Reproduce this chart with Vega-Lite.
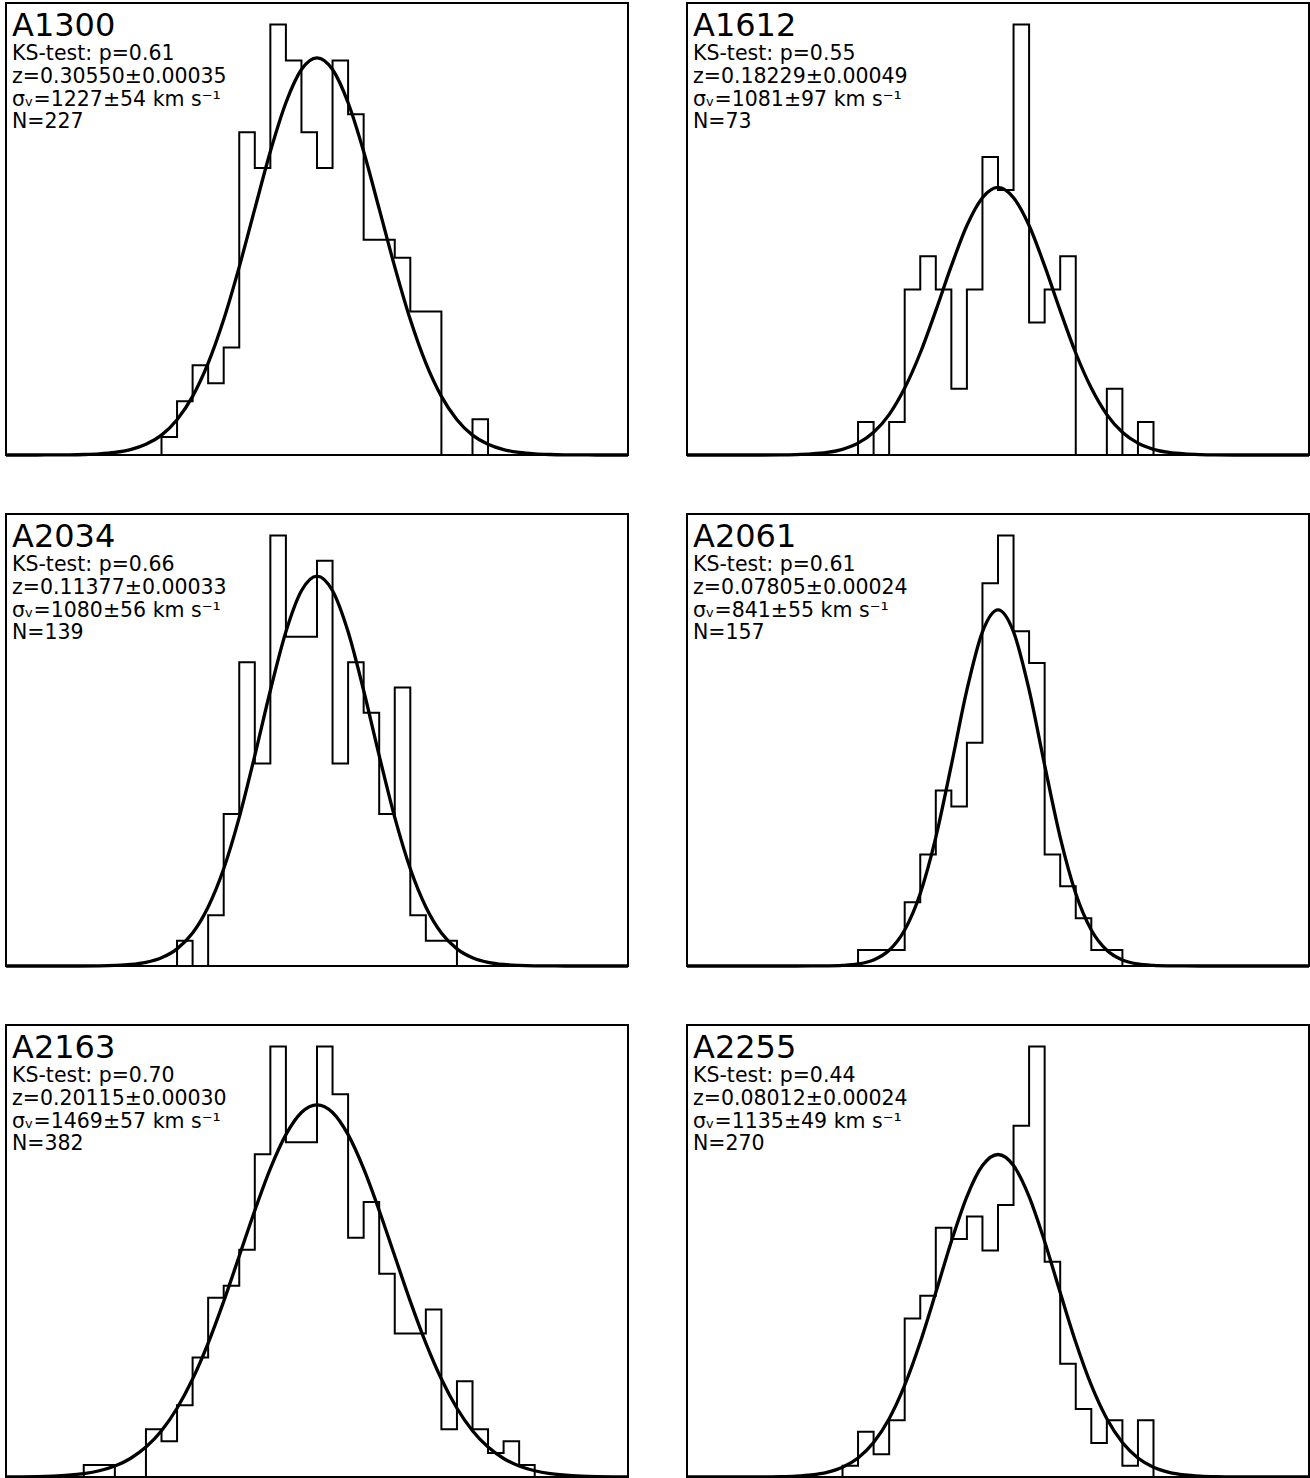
{
  "$schema": "https://vega.github.io/schema/vega-lite/v6.json",
  "padding": {"left": -2, "top": 2, "right": 0, "bottom": 0},
  "background": "white",
  "columns": 2,
  "spacing": 59,
  "bounds": "flush",
  "resolve": {"scale": {"x": "independent", "y": "independent"}},
  "datasets": {
    "hist": [
      {"c":"A1300","v":-3300,"n":0},{"c":"A1300","v":-3000,"n":1},{"c":"A1300","v":-2700,"n":3},{"c":"A1300","v":-2400,"n":5},{"c":"A1300","v":-2100,"n":4},{"c":"A1300","v":-1800,"n":6},{"c":"A1300","v":-1500,"n":18},{"c":"A1300","v":-1200,"n":16},{"c":"A1300","v":-900,"n":24},{"c":"A1300","v":-600,"n":22},{"c":"A1300","v":-300,"n":18},{"c":"A1300","v":0,"n":16},{"c":"A1300","v":300,"n":22},{"c":"A1300","v":600,"n":19},{"c":"A1300","v":900,"n":12},{"c":"A1300","v":1200,"n":12},{"c":"A1300","v":1500,"n":11},{"c":"A1300","v":1800,"n":8},{"c":"A1300","v":2100,"n":8},{"c":"A1300","v":2400,"n":0},{"c":"A1300","v":2700,"n":0},{"c":"A1300","v":3000,"n":2},{"c":"A1300","v":3300,"n":0},
      {"c":"A1612","v":-3000,"n":0},{"c":"A1612","v":-2700,"n":1},{"c":"A1612","v":-2400,"n":0},{"c":"A1612","v":-2100,"n":1},{"c":"A1612","v":-1800,"n":5},{"c":"A1612","v":-1500,"n":6},{"c":"A1612","v":-1200,"n":5},{"c":"A1612","v":-900,"n":2},{"c":"A1612","v":-600,"n":5},{"c":"A1612","v":-300,"n":9},{"c":"A1612","v":0,"n":8},{"c":"A1612","v":300,"n":13},{"c":"A1612","v":600,"n":4},{"c":"A1612","v":900,"n":5},{"c":"A1612","v":1200,"n":6},{"c":"A1612","v":1500,"n":0},{"c":"A1612","v":1800,"n":0},{"c":"A1612","v":2100,"n":2},{"c":"A1612","v":2400,"n":0},{"c":"A1612","v":2700,"n":1},{"c":"A1612","v":3000,"n":0},
      {"c":"A2034","v":-3000,"n":0},{"c":"A2034","v":-2700,"n":1},{"c":"A2034","v":-2400,"n":0},{"c":"A2034","v":-2100,"n":2},{"c":"A2034","v":-1800,"n":6},{"c":"A2034","v":-1500,"n":12},{"c":"A2034","v":-1200,"n":8},{"c":"A2034","v":-900,"n":17},{"c":"A2034","v":-600,"n":13},{"c":"A2034","v":-300,"n":13},{"c":"A2034","v":0,"n":16},{"c":"A2034","v":300,"n":8},{"c":"A2034","v":600,"n":12},{"c":"A2034","v":900,"n":10},{"c":"A2034","v":1200,"n":6},{"c":"A2034","v":1500,"n":11},{"c":"A2034","v":1800,"n":2},{"c":"A2034","v":2100,"n":1},{"c":"A2034","v":2400,"n":1},{"c":"A2034","v":2700,"n":0},
      {"c":"A2061","v":-3000,"n":0},{"c":"A2061","v":-2700,"n":1},{"c":"A2061","v":-2400,"n":1},{"c":"A2061","v":-2100,"n":1},{"c":"A2061","v":-1800,"n":4},{"c":"A2061","v":-1500,"n":7},{"c":"A2061","v":-1200,"n":11},{"c":"A2061","v":-900,"n":10},{"c":"A2061","v":-600,"n":14},{"c":"A2061","v":-300,"n":24},{"c":"A2061","v":0,"n":27},{"c":"A2061","v":300,"n":21},{"c":"A2061","v":600,"n":19},{"c":"A2061","v":900,"n":7},{"c":"A2061","v":1200,"n":5},{"c":"A2061","v":1500,"n":3},{"c":"A2061","v":1800,"n":1},{"c":"A2061","v":2100,"n":1},{"c":"A2061","v":2400,"n":0},
      {"c":"A2163","v":-4800,"n":0},{"c":"A2163","v":-4500,"n":1},{"c":"A2163","v":-4200,"n":1},{"c":"A2163","v":-3900,"n":0},{"c":"A2163","v":-3600,"n":0},{"c":"A2163","v":-3300,"n":4},{"c":"A2163","v":-3000,"n":3},{"c":"A2163","v":-2700,"n":6},{"c":"A2163","v":-2400,"n":10},{"c":"A2163","v":-2100,"n":15},{"c":"A2163","v":-1800,"n":16},{"c":"A2163","v":-1500,"n":19},{"c":"A2163","v":-1200,"n":27},{"c":"A2163","v":-900,"n":36},{"c":"A2163","v":-600,"n":28},{"c":"A2163","v":-300,"n":28},{"c":"A2163","v":0,"n":36},{"c":"A2163","v":300,"n":32},{"c":"A2163","v":600,"n":20},{"c":"A2163","v":900,"n":23},{"c":"A2163","v":1200,"n":17},{"c":"A2163","v":1500,"n":12},{"c":"A2163","v":1800,"n":12},{"c":"A2163","v":2100,"n":14},{"c":"A2163","v":2400,"n":4},{"c":"A2163","v":2700,"n":8},{"c":"A2163","v":3000,"n":4},{"c":"A2163","v":3300,"n":2},{"c":"A2163","v":3600,"n":3},{"c":"A2163","v":3900,"n":1},{"c":"A2163","v":4200,"n":0},
      {"c":"A2255","v":-3300,"n":0},{"c":"A2255","v":-3000,"n":1},{"c":"A2255","v":-2700,"n":4},{"c":"A2255","v":-2400,"n":2},{"c":"A2255","v":-2100,"n":5},{"c":"A2255","v":-1800,"n":14},{"c":"A2255","v":-1500,"n":16},{"c":"A2255","v":-1200,"n":22},{"c":"A2255","v":-900,"n":21},{"c":"A2255","v":-600,"n":23},{"c":"A2255","v":-300,"n":20},{"c":"A2255","v":0,"n":24},{"c":"A2255","v":300,"n":31},{"c":"A2255","v":600,"n":38},{"c":"A2255","v":900,"n":19},{"c":"A2255","v":1200,"n":10},{"c":"A2255","v":1500,"n":6},{"c":"A2255","v":1800,"n":3},{"c":"A2255","v":2100,"n":5},{"c":"A2255","v":2400,"n":1},{"c":"A2255","v":2700,"n":5},{"c":"A2255","v":3000,"n":0}
    ],
    "fit": [
      {"c":"A1300","v":-6000,"n":0},{"c":"A1300","v":-5400,"n":0.001},{"c":"A1300","v":-5100,"n":0.004},{"c":"A1300","v":-4800,"n":0.011},{"c":"A1300","v":-4500,"n":0.027},{"c":"A1300","v":-4200,"n":0.063},{"c":"A1300","v":-3900,"n":0.142},{"c":"A1300","v":-3600,"n":0.299},{"c":"A1300","v":-3300,"n":0.595},{"c":"A1300","v":-3000,"n":1.11},{"c":"A1300","v":-2700,"n":1.97},{"c":"A1300","v":-2400,"n":3.27},{"c":"A1300","v":-2100,"n":5.12},{"c":"A1300","v":-1800,"n":7.55},{"c":"A1300","v":-1500,"n":10.49},{"c":"A1300","v":-1200,"n":13.72},{"c":"A1300","v":-900,"n":16.92},{"c":"A1300","v":-600,"n":19.64},{"c":"A1300","v":-300,"n":21.49},{"c":"A1300","v":0,"n":22.14},{"c":"A1300","v":300,"n":21.49},{"c":"A1300","v":600,"n":19.64},{"c":"A1300","v":900,"n":16.92},{"c":"A1300","v":1200,"n":13.72},{"c":"A1300","v":1500,"n":10.49},{"c":"A1300","v":1800,"n":7.55},{"c":"A1300","v":2100,"n":5.12},{"c":"A1300","v":2400,"n":3.27},{"c":"A1300","v":2700,"n":1.97},{"c":"A1300","v":3000,"n":1.11},{"c":"A1300","v":3300,"n":0.595},{"c":"A1300","v":3600,"n":0.299},{"c":"A1300","v":3900,"n":0.142},{"c":"A1300","v":4200,"n":0.063},{"c":"A1300","v":4500,"n":0.027},{"c":"A1300","v":4800,"n":0.011},{"c":"A1300","v":5100,"n":0.004},{"c":"A1300","v":5400,"n":0.001},{"c":"A1300","v":6000,"n":0},
      {"c":"A1612","v":-6000,"n":0},{"c":"A1612","v":-4800,"n":0},{"c":"A1612","v":-4200,"n":0.004},{"c":"A1612","v":-3900,"n":0.012},{"c":"A1612","v":-3600,"n":0.032},{"c":"A1612","v":-3300,"n":0.077},{"c":"A1612","v":-3000,"n":0.172},{"c":"A1612","v":-2700,"n":0.357},{"c":"A1612","v":-2400,"n":0.687},{"c":"A1612","v":-2100,"n":1.22},{"c":"A1612","v":-1800,"n":2.02},{"c":"A1612","v":-1500,"n":3.08},{"c":"A1612","v":-1200,"n":4.36},{"c":"A1612","v":-900,"n":5.71},{"c":"A1612","v":-600,"n":6.93},{"c":"A1612","v":-300,"n":7.77},{"c":"A1612","v":0,"n":8.08},{"c":"A1612","v":300,"n":7.77},{"c":"A1612","v":600,"n":6.93},{"c":"A1612","v":900,"n":5.71},{"c":"A1612","v":1200,"n":4.36},{"c":"A1612","v":1500,"n":3.08},{"c":"A1612","v":1800,"n":2.02},{"c":"A1612","v":2100,"n":1.22},{"c":"A1612","v":2400,"n":0.687},{"c":"A1612","v":2700,"n":0.357},{"c":"A1612","v":3000,"n":0.172},{"c":"A1612","v":3300,"n":0.077},{"c":"A1612","v":3600,"n":0.032},{"c":"A1612","v":3900,"n":0.012},{"c":"A1612","v":4200,"n":0.004},{"c":"A1612","v":4800,"n":0},{"c":"A1612","v":6000,"n":0},
      {"c":"A2034","v":-6000,"n":0},{"c":"A2034","v":-4800,"n":0},{"c":"A2034","v":-4200,"n":0.008},{"c":"A2034","v":-3900,"n":0.023},{"c":"A2034","v":-3600,"n":0.059},{"c":"A2034","v":-3300,"n":0.145},{"c":"A2034","v":-3000,"n":0.325},{"c":"A2034","v":-2700,"n":0.676},{"c":"A2034","v":-2400,"n":1.30},{"c":"A2034","v":-2100,"n":2.33},{"c":"A2034","v":-1800,"n":3.84},{"c":"A2034","v":-1500,"n":5.87},{"c":"A2034","v":-1200,"n":8.31},{"c":"A2034","v":-900,"n":10.88},{"c":"A2034","v":-600,"n":13.20},{"c":"A2034","v":-300,"n":14.82},{"c":"A2034","v":0,"n":15.40},{"c":"A2034","v":300,"n":14.82},{"c":"A2034","v":600,"n":13.20},{"c":"A2034","v":900,"n":10.88},{"c":"A2034","v":1200,"n":8.31},{"c":"A2034","v":1500,"n":5.87},{"c":"A2034","v":1800,"n":3.84},{"c":"A2034","v":2100,"n":2.33},{"c":"A2034","v":2400,"n":1.30},{"c":"A2034","v":2700,"n":0.676},{"c":"A2034","v":3000,"n":0.325},{"c":"A2034","v":3300,"n":0.145},{"c":"A2034","v":3600,"n":0.059},{"c":"A2034","v":3900,"n":0.023},{"c":"A2034","v":4200,"n":0.008},{"c":"A2034","v":4800,"n":0},{"c":"A2034","v":6000,"n":0},
      {"c":"A2061","v":-6000,"n":0},{"c":"A2061","v":-4200,"n":0},{"c":"A2061","v":-3600,"n":0.002},{"c":"A2061","v":-3300,"n":0.010},{"c":"A2061","v":-3000,"n":0.039},{"c":"A2061","v":-2700,"n":0.129},{"c":"A2061","v":-2400,"n":0.381},{"c":"A2061","v":-2100,"n":0.989},{"c":"A2061","v":-1800,"n":2.26},{"c":"A2061","v":-1500,"n":4.55},{"c":"A2061","v":-1200,"n":8.07},{"c":"A2061","v":-900,"n":12.60},{"c":"A2061","v":-600,"n":17.32},{"c":"A2061","v":-300,"n":20.96},{"c":"A2061","v":0,"n":22.34},{"c":"A2061","v":300,"n":20.96},{"c":"A2061","v":600,"n":17.32},{"c":"A2061","v":900,"n":12.60},{"c":"A2061","v":1200,"n":8.07},{"c":"A2061","v":1500,"n":4.55},{"c":"A2061","v":1800,"n":2.26},{"c":"A2061","v":2100,"n":0.989},{"c":"A2061","v":2400,"n":0.381},{"c":"A2061","v":2700,"n":0.129},{"c":"A2061","v":3000,"n":0.039},{"c":"A2061","v":3300,"n":0.010},{"c":"A2061","v":3600,"n":0.002},{"c":"A2061","v":4200,"n":0},{"c":"A2061","v":6000,"n":0},
      {"c":"A2163","v":-6000,"n":0.007},{"c":"A2163","v":-5700,"n":0.017},{"c":"A2163","v":-5400,"n":0.036},{"c":"A2163","v":-5100,"n":0.075},{"c":"A2163","v":-4800,"n":0.149},{"c":"A2163","v":-4500,"n":0.285},{"c":"A2163","v":-4200,"n":0.522},{"c":"A2163","v":-3900,"n":0.917},{"c":"A2163","v":-3600,"n":1.55},{"c":"A2163","v":-3300,"n":2.50},{"c":"A2163","v":-3000,"n":3.87},{"c":"A2163","v":-2700,"n":5.75},{"c":"A2163","v":-2400,"n":8.19},{"c":"A2163","v":-2100,"n":11.20},{"c":"A2163","v":-1800,"n":14.69},{"c":"A2163","v":-1500,"n":18.48},{"c":"A2163","v":-1200,"n":22.29},{"c":"A2163","v":-900,"n":25.79},{"c":"A2163","v":-600,"n":28.63},{"c":"A2163","v":-300,"n":30.48},{"c":"A2163","v":0,"n":31.12},{"c":"A2163","v":300,"n":30.48},{"c":"A2163","v":600,"n":28.63},{"c":"A2163","v":900,"n":25.79},{"c":"A2163","v":1200,"n":22.29},{"c":"A2163","v":1500,"n":18.48},{"c":"A2163","v":1800,"n":14.69},{"c":"A2163","v":2100,"n":11.20},{"c":"A2163","v":2400,"n":8.19},{"c":"A2163","v":2700,"n":5.75},{"c":"A2163","v":3000,"n":3.87},{"c":"A2163","v":3300,"n":2.50},{"c":"A2163","v":3600,"n":1.55},{"c":"A2163","v":3900,"n":0.917},{"c":"A2163","v":4200,"n":0.522},{"c":"A2163","v":4500,"n":0.285},{"c":"A2163","v":4800,"n":0.149},{"c":"A2163","v":5100,"n":0.075},{"c":"A2163","v":5400,"n":0.036},{"c":"A2163","v":5700,"n":0.017},{"c":"A2163","v":6000,"n":0.007},
      {"c":"A2255","v":-6000,"n":0},{"c":"A2255","v":-5400,"n":0},{"c":"A2255","v":-4800,"n":0.004},{"c":"A2255","v":-4500,"n":0.011},{"c":"A2255","v":-4200,"n":0.030},{"c":"A2255","v":-3900,"n":0.078},{"c":"A2255","v":-3600,"n":0.186},{"c":"A2255","v":-3300,"n":0.416},{"c":"A2255","v":-3000,"n":0.865},{"c":"A2255","v":-2700,"n":1.68},{"c":"A2255","v":-2400,"n":3.04},{"c":"A2255","v":-2100,"n":5.14},{"c":"A2255","v":-1800,"n":8.10},{"c":"A2255","v":-1500,"n":11.89},{"c":"A2255","v":-1200,"n":16.28},{"c":"A2255","v":-900,"n":20.79},{"c":"A2255","v":-600,"n":24.76},{"c":"A2255","v":-300,"n":27.49},{"c":"A2255","v":0,"n":28.47},{"c":"A2255","v":300,"n":27.49},{"c":"A2255","v":600,"n":24.76},{"c":"A2255","v":900,"n":20.79},{"c":"A2255","v":1200,"n":16.28},{"c":"A2255","v":1500,"n":11.89},{"c":"A2255","v":1800,"n":8.10},{"c":"A2255","v":2100,"n":5.14},{"c":"A2255","v":2400,"n":3.04},{"c":"A2255","v":2700,"n":1.68},{"c":"A2255","v":3000,"n":0.865},{"c":"A2255","v":3300,"n":0.416},{"c":"A2255","v":3600,"n":0.186},{"c":"A2255","v":3900,"n":0.078},{"c":"A2255","v":4200,"n":0.030},{"c":"A2255","v":4500,"n":0.011},{"c":"A2255","v":4800,"n":0.004},{"c":"A2255","v":5400,"n":0},{"c":"A2255","v":6000,"n":0}
    ]
  },
  "concat": [
    {
      "width": 622, "height": 452,
      "title": {"text": "A1300", "subtitle": ["KS-test: p=0.61", "z=0.30550±0.00035", "σᵥ=1227±54 km s⁻¹", "N=227"]},
      "layer": [
        {"data": {"name": "hist"}, "transform": [{"filter": "datum.c === 'A1300'"}],
         "mark": {"type": "line", "interpolate": "step-after", "color": "black", "strokeWidth": 2},
         "encoding": {"x": {"field": "v", "type": "quantitative", "scale": {"domain": [-6000, 6000], "nice": false, "zero": false}, "axis": null},
                      "y": {"field": "n", "type": "quantitative", "scale": {"domain": [0, 25.2], "nice": false, "zero": true}, "axis": null}}},
        {"data": {"name": "fit"}, "transform": [{"filter": "datum.c === 'A1300'"}],
         "mark": {"type": "line", "interpolate": "monotone", "color": "black", "strokeWidth": 3.3},
         "encoding": {"x": {"field": "v", "type": "quantitative", "axis": null}, "y": {"field": "n", "type": "quantitative", "axis": null}}}
      ]
    },
    {
      "width": 622, "height": 452,
      "title": {"text": "A1612", "subtitle": ["KS-test: p=0.55", "z=0.18229±0.00049", "σᵥ=1081±97 km s⁻¹", "N=73"]},
      "layer": [
        {"data": {"name": "hist"}, "transform": [{"filter": "datum.c === 'A1612'"}],
         "mark": {"type": "line", "interpolate": "step-after", "color": "black", "strokeWidth": 2},
         "encoding": {"x": {"field": "v", "type": "quantitative", "scale": {"domain": [-6000, 6000], "nice": false, "zero": false}, "axis": null},
                      "y": {"field": "n", "type": "quantitative", "scale": {"domain": [0, 13.65], "nice": false, "zero": true}, "axis": null}}},
        {"data": {"name": "fit"}, "transform": [{"filter": "datum.c === 'A1612'"}],
         "mark": {"type": "line", "interpolate": "monotone", "color": "black", "strokeWidth": 3.3},
         "encoding": {"x": {"field": "v", "type": "quantitative", "axis": null}, "y": {"field": "n", "type": "quantitative", "axis": null}}}
      ]
    },
    {
      "width": 622, "height": 452,
      "title": {"text": "A2034", "subtitle": ["KS-test: p=0.66", "z=0.11377±0.00033", "σᵥ=1080±56 km s⁻¹", "N=139"]},
      "layer": [
        {"data": {"name": "hist"}, "transform": [{"filter": "datum.c === 'A2034'"}],
         "mark": {"type": "line", "interpolate": "step-after", "color": "black", "strokeWidth": 2},
         "encoding": {"x": {"field": "v", "type": "quantitative", "scale": {"domain": [-6000, 6000], "nice": false, "zero": false}, "axis": null},
                      "y": {"field": "n", "type": "quantitative", "scale": {"domain": [0, 17.85], "nice": false, "zero": true}, "axis": null}}},
        {"data": {"name": "fit"}, "transform": [{"filter": "datum.c === 'A2034'"}],
         "mark": {"type": "line", "interpolate": "monotone", "color": "black", "strokeWidth": 3.3},
         "encoding": {"x": {"field": "v", "type": "quantitative", "axis": null}, "y": {"field": "n", "type": "quantitative", "axis": null}}}
      ]
    },
    {
      "width": 622, "height": 452,
      "title": {"text": "A2061", "subtitle": ["KS-test: p=0.61", "z=0.07805±0.00024", "σᵥ=841±55 km s⁻¹", "N=157"]},
      "layer": [
        {"data": {"name": "hist"}, "transform": [{"filter": "datum.c === 'A2061'"}],
         "mark": {"type": "line", "interpolate": "step-after", "color": "black", "strokeWidth": 2},
         "encoding": {"x": {"field": "v", "type": "quantitative", "scale": {"domain": [-6000, 6000], "nice": false, "zero": false}, "axis": null},
                      "y": {"field": "n", "type": "quantitative", "scale": {"domain": [0, 28.35], "nice": false, "zero": true}, "axis": null}}},
        {"data": {"name": "fit"}, "transform": [{"filter": "datum.c === 'A2061'"}],
         "mark": {"type": "line", "interpolate": "monotone", "color": "black", "strokeWidth": 3.3},
         "encoding": {"x": {"field": "v", "type": "quantitative", "axis": null}, "y": {"field": "n", "type": "quantitative", "axis": null}}}
      ]
    },
    {
      "width": 622, "height": 452,
      "title": {"text": "A2163", "subtitle": ["KS-test: p=0.70", "z=0.20115±0.00030", "σᵥ=1469±57 km s⁻¹", "N=382"]},
      "layer": [
        {"data": {"name": "hist"}, "transform": [{"filter": "datum.c === 'A2163'"}],
         "mark": {"type": "line", "interpolate": "step-after", "color": "black", "strokeWidth": 2},
         "encoding": {"x": {"field": "v", "type": "quantitative", "scale": {"domain": [-6000, 6000], "nice": false, "zero": false}, "axis": null},
                      "y": {"field": "n", "type": "quantitative", "scale": {"domain": [0, 37.8], "nice": false, "zero": true}, "axis": null}}},
        {"data": {"name": "fit"}, "transform": [{"filter": "datum.c === 'A2163'"}],
         "mark": {"type": "line", "interpolate": "monotone", "color": "black", "strokeWidth": 3.3},
         "encoding": {"x": {"field": "v", "type": "quantitative", "axis": null}, "y": {"field": "n", "type": "quantitative", "axis": null}}}
      ]
    },
    {
      "width": 622, "height": 452,
      "title": {"text": "A2255", "subtitle": ["KS-test: p=0.44", "z=0.08012±0.00024", "σᵥ=1135±49 km s⁻¹", "N=270"]},
      "layer": [
        {"data": {"name": "hist"}, "transform": [{"filter": "datum.c === 'A2255'"}],
         "mark": {"type": "line", "interpolate": "step-after", "color": "black", "strokeWidth": 2},
         "encoding": {"x": {"field": "v", "type": "quantitative", "scale": {"domain": [-6000, 6000], "nice": false, "zero": false}, "axis": null},
                      "y": {"field": "n", "type": "quantitative", "scale": {"domain": [0, 39.9], "nice": false, "zero": true}, "axis": null}}},
        {"data": {"name": "fit"}, "transform": [{"filter": "datum.c === 'A2255'"}],
         "mark": {"type": "line", "interpolate": "monotone", "color": "black", "strokeWidth": 3.3},
         "encoding": {"x": {"field": "v", "type": "quantitative", "axis": null}, "y": {"field": "n", "type": "quantitative", "axis": null}}}
      ]
    }
  ],
  "config": {
    "view": {"stroke": "black", "strokeWidth": 2},
    "title": {"anchor": "start", "frame": "group", "font": "DejaVu Sans", "fontSize": 32, "fontWeight": "normal", "color": "black",
              "subtitleFont": "DejaVu Sans", "subtitleFontSize": 20.5, "subtitleColor": "black", "subtitleLineHeight": 22.7, "subtitlePadding": 1,
              "offset": -131, "dx": 6}
  }
}
